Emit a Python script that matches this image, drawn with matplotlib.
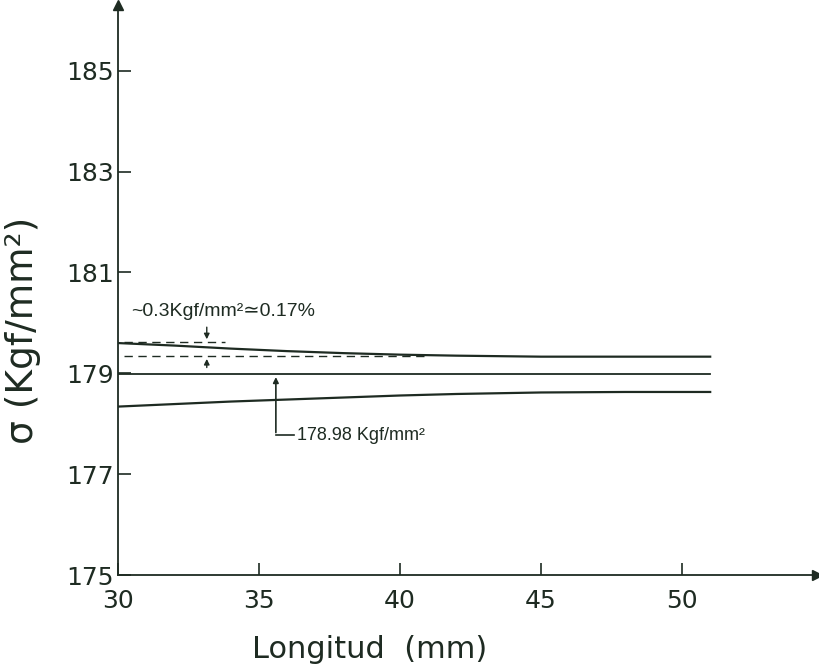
import matplotlib
matplotlib.use("Agg")
import matplotlib.pyplot as plt

# values
x_mm = [30, 32, 34, 36, 38, 40, 42, 45, 48, 51]
sigma_upper = [179.60, 179.55, 179.49, 179.44, 179.40, 179.37, 179.35, 179.33, 179.33, 179.33]
sigma_lower = [178.34, 178.39, 178.44, 178.48, 178.52, 178.56, 178.59, 178.62, 178.63, 178.63]
sigma_ref = [178.98] * len(x_mm)

dash_hi = 179.62
dash_lo = 179.34

x_ticks = [30, 35, 40, 45, 50]
y_ticks = [175, 177, 179, 181, 183, 185]

ink = "#1e2b22"
plain = ["Liberation Sans", "DejaVu Sans"]
plt.rcParams["font.family"] = ["DejaVu Sans"]

fig = plt.figure(figsize=(8.19, 6.72), dpi=100)
ax = fig.add_axes([0.144, 0.1443, 0.854, 0.848])

ax.plot(x_mm, sigma_upper, color=ink, lw=1.6)
ax.plot(x_mm, sigma_ref, color=ink, lw=1.3)
ax.plot(x_mm, sigma_lower, color=ink, lw=1.6)

# dashed reference levels
ax.plot([30.2, 33.8], [dash_hi, dash_hi], color=ink, lw=1.0, ls=(0, (6, 4)))
ax.plot([30.2, 41.0], [dash_lo, dash_lo], color=ink, lw=1.0, ls=(0, (6, 4)))

# difference arrows
ax.annotate("", xy=(33.15, dash_hi), xytext=(33.15, 179.97),
            arrowprops=dict(arrowstyle="-|>", color=ink, lw=1.0, mutation_scale=8))
ax.annotate("", xy=(33.15, dash_lo), xytext=(33.15, 179.06),
            arrowprops=dict(arrowstyle="-|>", color=ink, lw=1.0, mutation_scale=8))
ax.text(30.45, 180.22, "~0.3Kgf/mm²≃0.17%", fontsize=14, family=plain,
        color=ink, va="center", ha="left")

# 178.98 label
ax.annotate("", xy=(35.6, 178.98), xytext=(35.6, 177.77),
            arrowprops=dict(arrowstyle="-|>", color=ink, lw=1.2, mutation_scale=8))
ax.plot([35.6, 36.25], [177.77, 177.77], color=ink, lw=1.2)
ax.text(36.35, 177.77, "178.98 Kgf/mm²", fontsize=13, family=plain, color=ink,
        va="center", ha="left")

ax.set_xlim(30, 54.8)
ax.set_ylim(175, 186.3)
ax.set_xticks(x_ticks)
ax.set_yticks(y_ticks)
ax.tick_params(direction="in", length=9, width=1.2, colors=ink, labelsize=18)
ax.tick_params(axis="x", pad=10)
ax.tick_params(axis="y", pad=3)

for s in ["top", "right"]:
    ax.spines[s].set_visible(False)
for s in ["left", "bottom"]:
    ax.spines[s].set_color(ink)
    ax.spines[s].set_linewidth(1.3)

# axis arrows
ax.plot(1, 0, ">", color=ink, ms=7, transform=ax.transAxes, clip_on=False)
ax.plot(0, 1, "^", color=ink, ms=7, transform=ax.transAxes, clip_on=False)

ax.set_xlabel("Longitud  (mm)", fontsize=22, color=ink)
ax.xaxis.set_label_coords(0.36, -0.105)
ax.set_ylabel("σ (Kgf/mm²)", fontsize=27, color=ink)
ax.yaxis.set_label_coords(-0.11, 0.43)

fig.savefig("out.png", dpi=100)
